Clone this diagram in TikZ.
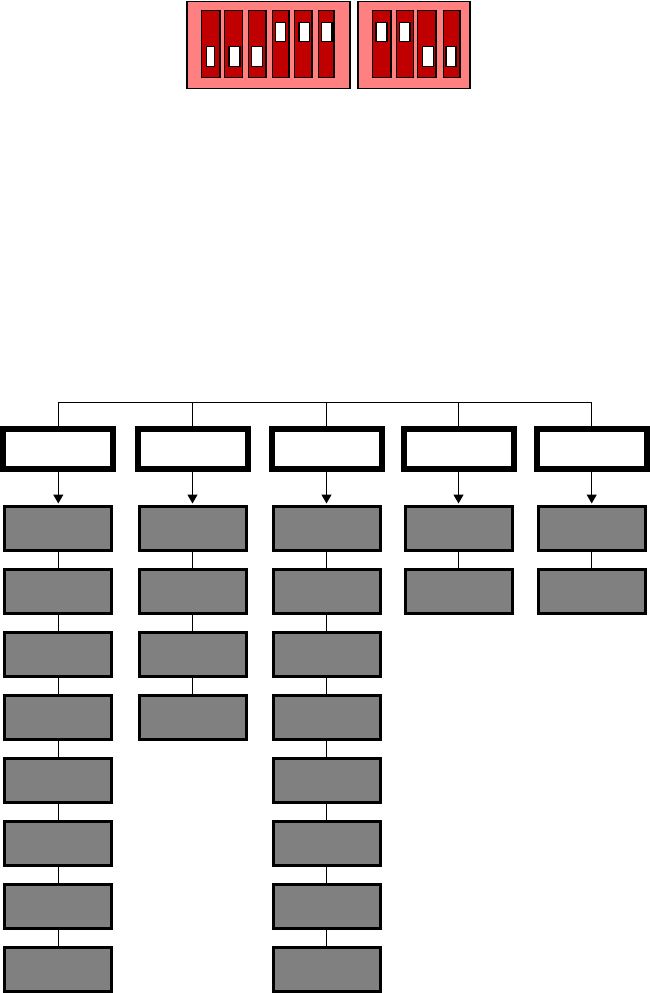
\documentclass[tikz,border=0pt]{standalone}
\usetikzlibrary{arrows.meta}
\definecolor{dippink}{HTML}{FF8080}
\definecolor{dipred}{HTML}{C00000}
\definecolor{boxgray}{HTML}{808080}
\tikzset{
  hdr/.style={draw=black, fill=white, line width=6pt, minimum width=110pt, minimum height=40pt, inner sep=0pt, outer sep=0pt},
  gbox/.style={draw=black, fill=boxgray, line width=3pt, minimum width=107pt, minimum height=44pt, inner sep=0pt, outer sep=0pt},
  arr/.style={line width=1.3pt, -{Triangle[width=10pt,length=9pt]}, shorten >=3pt, shorten <=2pt},
  link/.style={line width=1.3pt},
  tree/.style={line width=1pt},
  dipbase/.style={fill=dippink, draw=black, line width=1.5pt},
  dipslot/.style={fill=dipred, draw=black, line width=1.5pt},
  dipknob/.style={fill=white, draw=black, line width=1.5pt}
}
\begin{document}
\begin{tikzpicture}[x=1pt,y=-1pt]
\useasboundingbox (0,0) rectangle (650,993);
% DIP switch blocks
\filldraw[dipbase] (187,1.5) rectangle (350,88.5);
\filldraw[dipbase] (358,1.5) rectangle (470,88.5);
\foreach \a/\b in {201.7/220,224.3/242.7,248.3/266,272.3/289,294.7/312,318.3/334,372.7/391,396.3/413.3,417.7/436,443.3/460}
  \filldraw[dipslot] (\a,10.7) rectangle (\b,77.3);
\foreach \a/\b in {206.3/214.7,229/240,251.3/262.7,422.3/433.3,446/456}
  \filldraw[dipknob] (\a,46.3) rectangle (\b,66.7);
\foreach \a/\b in {275.7/285.3,299/309.3,321.7/332,376/387,399.7/410}
  \filldraw[dipknob] (\a,22.3) rectangle (\b,41.3);
% tree
\coordinate (tl) at (0,402);
\foreach \c/\x/\n in {1/58.3/8,2/192.5/4,3/326.5/8,4/458.5/2,5/591.7/2} {
  \node[hdr] (h\c) at (\x,449) {};
  \foreach \r in {1,...,\n} {
    \node[gbox] (g\c-\r) at (\x,{528.5+63*(\r-1)}) {};
  }
  \draw[arr] (h\c.south) -- (g\c-1.north);
  \draw[tree] (h\c.north|-tl) -- ([yshift=3pt]h\c.north);
}
\draw[tree] (h1.north|-tl) -- (h5.north|-tl);
\foreach \c/\n in {1/8,2/4,3/8,4/2,5/2} {
  \foreach \r in {2,...,\n} {
    \pgfmathtruncatemacro{\p}{\r-1}
    \draw[link] (g\c-\p.south) -- (g\c-\r.north);
  }
}
\end{tikzpicture}
\end{document}
